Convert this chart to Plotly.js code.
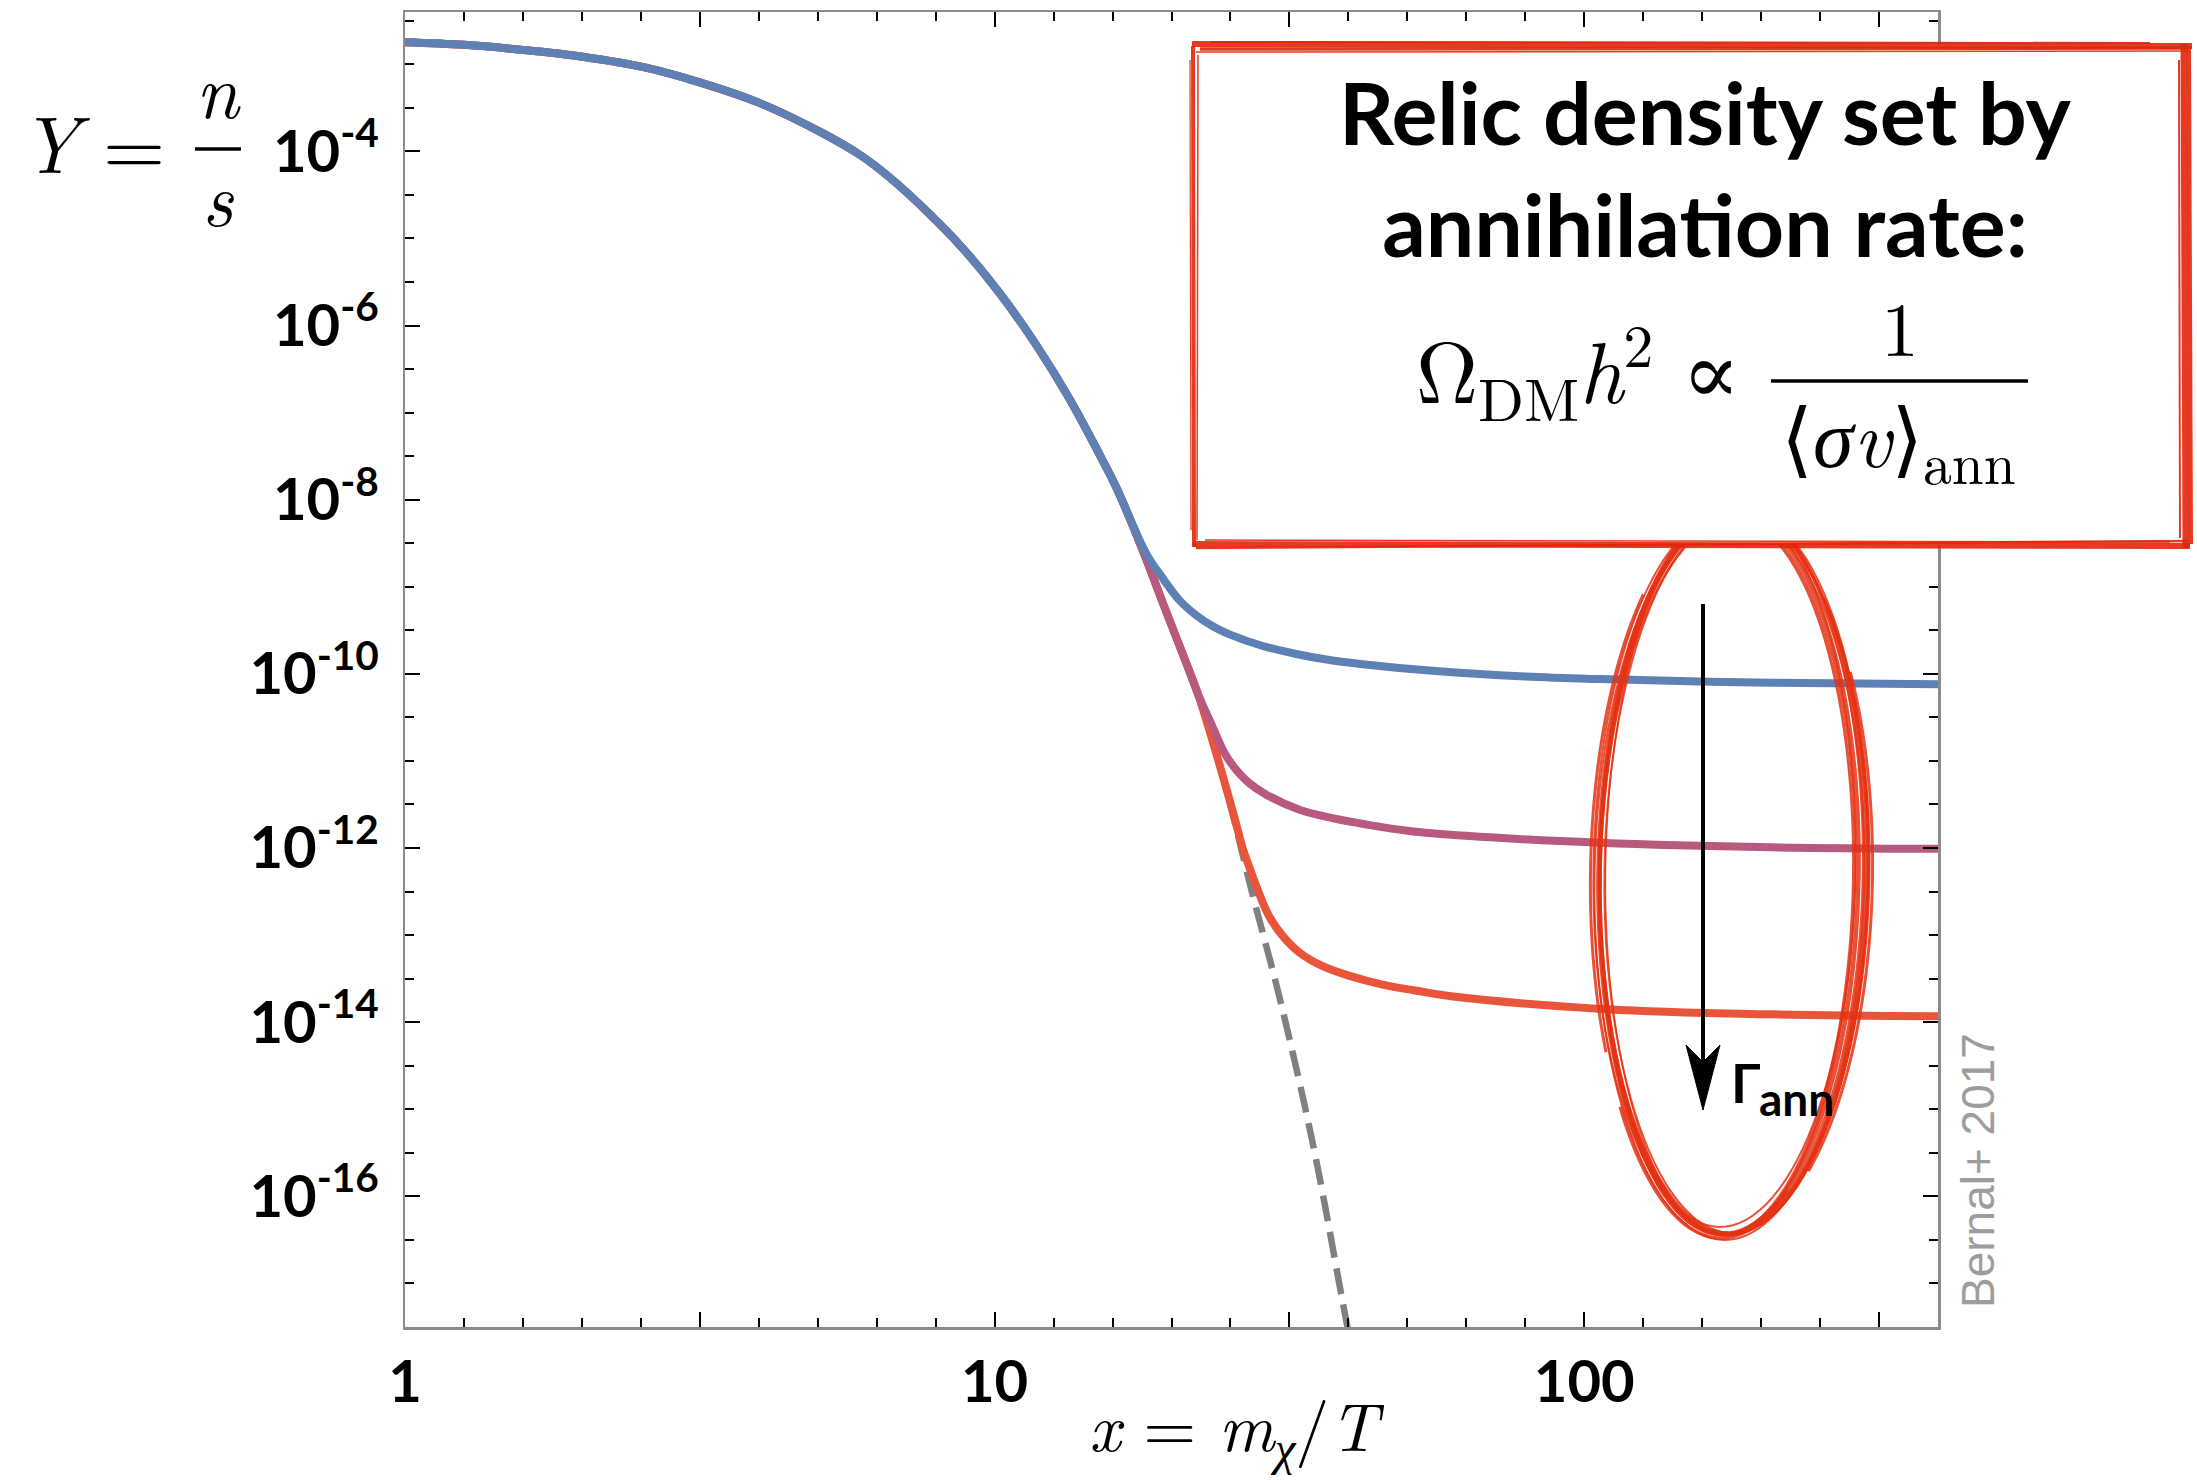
<!DOCTYPE html>
<html>
<head>
<meta charset="utf-8">
<script src="https://cdn.plot.ly/plotly-3.0.1.min.js"></script>
<style>html,body{margin:0;padding:0;background:#fff;}#chart{width:2197px;height:1480px;}</style>
</head>
<body>
<div id="chart"></div>
<script>
// ---------------- data ----------------
// early (equilibrium) part shared by all three curves
const xCommon = [1, 1.26, 1.585, 2.0, 2.55, 3.16, 3.97, 5.08, 5.94, 6.64, 7.76, 8.83, 10.2, 11.8, 13.4, 15.3, 16.1];
const yCommon = [1.79e-3, 1.67e-3, 1.46e-3, 1.22e-3, 9.2e-4, 6.2e-4, 3.65e-4, 1.65e-4, 8.9e-5, 5.0e-5, 1.9e-5, 7.7e-6, 2.35e-6, 5.8e-7, 1.43e-7, 2.7e-8, 1.36e-8];

// blue curve after freeze-out
const xBlueTail = [18.07, 19.29, 20.59, 21.98, 23.44, 25.02, 28.49, 32.46, 36.97, 42.09, 54.62, 79.4, 106, 208, 400];
const yBlueTail = [2.42e-9, 1.25e-9, 6.98e-10, 4.7e-10, 3.52e-10, 2.84e-10, 2.09e-10, 1.69e-10, 1.44e-10, 1.29e-10, 1.09e-10, 9.3e-11, 8.7e-11, 7.9e-11, 7.6e-11];

// later equilibrium part shared by purple and orange
const xEqLate = [17.8, 19.5, 20.9, 22.1];
const yEqLate = [2.7e-9, 5.4e-10, 1.62e-10, 6.0e-11];

// purple curve after freeze-out
const xPurpleTail = [23.4, 24.5, 25.4, 27.0, 28.9, 32.9, 37.4, 42.7, 50.1, 63.0, 106, 208, 400];
const yPurpleTail = [2.5e-11, 1.26e-11, 8.7e-12, 5.6e-12, 4.1e-12, 2.75e-12, 2.2e-12, 1.86e-12, 1.58e-12, 1.38e-12, 1.15e-12, 1.02e-12, 9.8e-13];

// orange curve after freeze-out
const xOrangeTail = [23.4, 25.4, 26.4, 27.0, 28.1, 29.2, 30.8, 32.9, 36.0, 40.0, 45.5, 51.9, 59.0, 109, 208, 400];
const yOrangeTail = [1.74e-11, 2.5e-12, 9.5e-13, 6.2e-13, 3.0e-13, 1.66e-13, 9.8e-14, 6.3e-14, 4.4e-14, 3.4e-14, 2.7e-14, 2.3e-14, 2.0e-14, 1.41e-14, 1.23e-14, 1.17e-14];

// dashed equilibrium continuation
const xEquil = [22.1, 24.5, 27.2, 30.5, 34.8, 38.9, 40.3];
const yEquil = [6.0e-11, 5.9e-12, 3.5e-13, 1.8e-14, 3.5e-16, 6.3e-18, 1.8e-18];

// tick labels
const xTickVals = [1, Math.pow(10, 0.5), 10, Math.pow(10, 1.5), 100, Math.pow(10, 2.5)];
const xTickText = ['1', '', '10', '', '100', ''];
const yTickExps = [-4, -6, -8, -10, -12, -14, -16];
const yTickVals = yTickExps.map(e => Math.pow(10, e));
const yTickText = yTickExps.map(e => '10<sup>' + e + '</sup>');

// ---------------- build ----------------
const blueX = xCommon.concat(xBlueTail), blueY = yCommon.concat(yBlueTail);
const purpleX = xCommon.concat(xEqLate, xPurpleTail), purpleY = yCommon.concat(yEqLate, yPurpleTail);
const orangeX = xCommon.concat(xEqLate, xOrangeTail), orangeY = yCommon.concat(yEqLate, yOrangeTail);

const xMinor = [];
for (let k = 1; k <= 25; k++) if (k % 5 !== 0) xMinor.push(Math.pow(10, k / 10));
const yMinor = [];
for (let k = 5; k <= 35; k++) {
  if (!(k % 4 === 0 && k >= 8 && k <= 32)) yMinor.push(Math.pow(10, -k / 2));
}

const LINE_W = 8;
const SMOOTH = 1.0;
const traces = [
  {x: xEquil, y: yEquil, mode: 'lines', line: {color: '#808080', width: 6.5, dash: '26px,11px', shape: 'spline', smoothing: SMOOTH}, hoverinfo: 'skip'},
  {x: orangeX, y: orangeY, mode: 'lines', line: {color: '#E8553A', width: LINE_W, shape: 'spline', smoothing: SMOOTH}, hoverinfo: 'skip'},
  {x: purpleX, y: purpleY, mode: 'lines', line: {color: '#B85A80', width: LINE_W, shape: 'spline', smoothing: SMOOTH}, hoverinfo: 'skip'},
  {x: blueX, y: blueY, mode: 'lines', line: {color: '#5E81B5', width: LINE_W, shape: 'spline', smoothing: SMOOTH}, hoverinfo: 'skip'}
];

// pixel -> paper helpers for decorations
const L = 405, R = 1938, T = 12, B = 1327;
const px = x => (x - L) / (R - L);
const py = y => (B - y) / (B - T);

const shapes = [];
// hand-drawn ellipse: several overlapping strokes (full loops and partial arcs)
const RED = 'rgba(228,50,20,0.85)';
const ell = {cx: 1728.5, cy: 873, a: 130, b: 361, th: 0.015};
const strokes = [
  // dcx, dcy, da, db, width, tStart(deg), tEnd(deg)
  [0, 0, 0, 0, 4.5, 0, 360], [3, -2, 2, 3, 3.5, 0, 360], [-2, 3, -3, -2, 3, 0, 360], [5, 0, 3, 1, 2.5, 0, 360],
  [-4, -3, 1, -4, 2, 0, 360], [1, 4, 5, 2, 2, 0, 360], [2, -4, -5, 5, 1.5, 0, 360], [6, 2, 4, -3, 2.5, 0, 360],
  [8, -1, 2, 0, 2, 0, 360],
  [2, 0, 8, 0, 4, -50, 70], [4, 3, 10, -2, 3, -35, 55], [-3, 2, 3, 2, 3.5, 60, 140], [-2, 0, 6, 1, 3, 150, 230]
];
strokes.forEach(s => {
  const cx = ell.cx + s[0], cy = ell.cy + s[1], a = ell.a + s[2], b = ell.b + s[3];
  let d = '';
  const N = 120;
  for (let i = 0; i <= N; i++) {
    const t = (s[5] + (s[6] - s[5]) * i / N) * Math.PI / 180;
    const X = cx + a * Math.cos(t) * Math.cos(ell.th) - b * Math.sin(t) * Math.sin(ell.th);
    const Y = cy + a * Math.cos(t) * Math.sin(ell.th) + b * Math.sin(t) * Math.cos(ell.th);
    d += (i === 0 ? 'M' : 'L') + px(X).toFixed(5) + ',' + py(Y).toFixed(5);
  }
  shapes.push({type: 'path', xref: 'paper', yref: 'paper', path: d, line: {color: RED, width: s[4]}, layer: 'above'});
});

// arrow
shapes.push({type: 'line', xref: 'paper', yref: 'paper', x0: px(1703), y0: py(604), x1: px(1703), y1: py(1070), line: {color: '#000', width: 4}, layer: 'above'});
shapes.push({type: 'path', xref: 'paper', yref: 'paper',
  path: 'M' + px(1703) + ',' + py(1110) + 'L' + px(1686) + ',' + py(1045) + 'L' + px(1703) + ',' + py(1062) + 'L' + px(1720) + ',' + py(1045) + 'Z',
  fillcolor: '#000', line: {color: '#000', width: 1}, layer: 'above'});

// white box
shapes.push({type: 'rect', xref: 'paper', yref: 'paper', x0: px(1193), x1: px(2188), y0: py(545), y1: py(45), fillcolor: '#fff', line: {width: 0}, layer: 'above'});
// rough red border strokes
const BOX_RED = 'rgba(226,38,12,0.9)';
const boxLines = [
  [1192, 44, 2192, 46, 6], [1200, 49, 2186, 48, 3.5], [1196, 52, 2188, 51, 1.5], [1210, 42, 2150, 43, 2],
  [2184, 44, 2186, 548, 7], [2189, 46, 2191, 544, 4], [2179, 60, 2180, 538, 2],
  [1193, 544, 2190, 546, 6], [1196, 548, 2188, 541, 2.5], [1205, 540, 2170, 542, 1.5],
  [1193, 46, 1194, 547, 4], [1198, 55, 1197, 540, 1.5], [1190, 60, 1191, 530, 1.2]
];
boxLines.forEach(l => shapes.push({type: 'line', xref: 'paper', yref: 'paper', x0: px(l[0]), y0: py(l[1]), x1: px(l[2]), y1: py(l[3]), line: {color: BOX_RED, width: l[4]}, layer: 'above'}));

// fraction bars
shapes.push({type: 'line', xref: 'paper', yref: 'paper', x0: px(195), x1: px(241), y0: py(149), y1: py(149), line: {color: '#000', width: 3.5}, layer: 'above'});
shapes.push({type: 'line', xref: 'paper', yref: 'paper', x0: px(1771), x1: px(2028), y0: py(381), y1: py(381), line: {color: '#000', width: 3.5}, layer: 'above'});

const SERIF = "'Latin Modern Roman','CMU Serif','Liberation Serif','DejaVu Serif',serif";
const SANS = "'Gill Sans','Gill Sans MT',Lato,'Open Sans',sans-serif";
function ann(x, y, text, font, xanchor, extra) {
  return Object.assign({xref: 'paper', yref: 'paper', x: px(x), y: py(y), text: text, showarrow: false,
    xanchor: xanchor || 'center', yanchor: 'middle', font: font}, extra || {});
}
const annotations = [
  ann(55, 140, '<i>Y</i>', {family: SERIF, size: 80, color: '#000'}),
  ann(134, 142, '=', {family: SERIF, size: 80, color: '#000'}),
  ann(218, 86, '<i>n</i>', {family: SERIF, size: 76, color: '#000'}),
  ann(218, 194, '<i>s</i>', {family: SERIF, size: 76, color: '#000'}),
  ann(1236, 1426, '<i>x</i> = <i>m</i><sub><i>\u03C7</i></sub>/<i>T</i>', {family: SERIF, size: 68, color: '#000'}),
  ann(1705, 168, 'Relic density set by<br>annihilation rate:', {family: SANS, size: 86, color: '#000', weight: 'bold'}),
  ann(1742, 369, '\u03A9<sub>DM</sub><i>h</i><sup>2</sup> \u221D', {family: SERIF, size: 86, color: '#000'}, 'right'),
  ann(1900, 324, '1', {family: SERIF, size: 76, color: '#000'}),
  ann(1898, 438, '\u27E8<i>\u03C3v</i>\u27E9<sub>ann</sub>', {family: SERIF, size: 82, color: '#000'}),
  ann(1729, 1082, '\u0393', {family: SANS, size: 54, color: '#000', weight: 'bold'}, 'left'),
  ann(1757, 1098, 'ann', {family: SANS, size: 46, color: '#000', weight: 'bold'}, 'left'),
  ann(1978, 1171, 'Bernal+ 2017', {family: "'Liberation Sans',Arial,sans-serif", size: 46, color: '#9d9d9d'}, 'center', {textangle: -90})
];

const axisCommon = {
  type: 'log', showline: true, linecolor: '#8c8c8c', linewidth: 2.5, mirror: 'ticks',
  ticks: 'inside', ticklen: 15, tickwidth: 2, tickcolor: '#000',
  showgrid: false, zeroline: false, tickmode: 'array',
  tickfont: {family: SANS, size: 58, color: '#000', weight: 'bold'}
};

const layout = {
  width: 2197, height: 1480,
  margin: {l: L, r: 2197 - R, t: T, b: 1480 - B, pad: 0},
  paper_bgcolor: '#fff', plot_bgcolor: '#fff', showlegend: false,
  xaxis: Object.assign({}, axisCommon, {
    range: [0, 2.6], tickvals: xTickVals, ticktext: xTickText, ticklabelstandoff: 3,
    minor: {tickmode: 'array', tickvals: xMinor, ticks: 'inside', ticklen: 9, tickwidth: 2, tickcolor: '#000', showgrid: false}
  }),
  yaxis: Object.assign({}, axisCommon, {
    range: [-17.5, -2.4], tickvals: yTickVals, ticktext: yTickText, ticklabelstandoff: 12,
    minor: {tickmode: 'array', tickvals: yMinor, ticks: 'inside', ticklen: 9, tickwidth: 2, tickcolor: '#000', showgrid: false}
  }),
  shapes: shapes,
  annotations: annotations
};

Plotly.newPlot('chart', traces, layout, {displayModeBar: false, staticPlot: true});
</script>
</body>
</html>
